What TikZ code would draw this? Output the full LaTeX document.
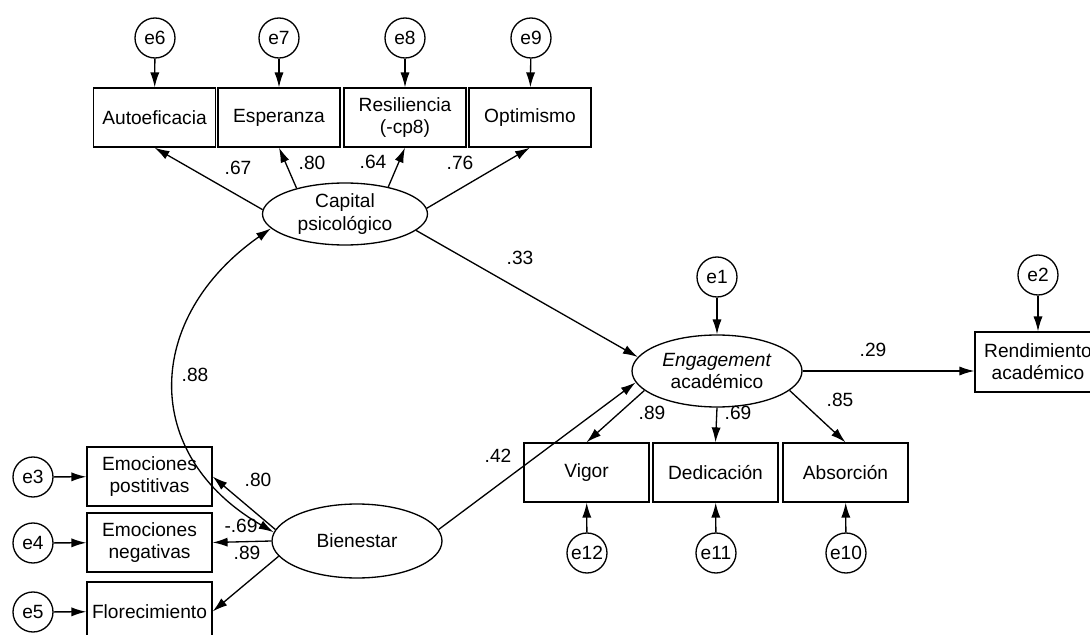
\documentclass[tikz,border=0pt]{standalone}
\usepackage{fontspec}
\setmainfont{Liberation Sans}
\usetikzlibrary{shapes,arrows.meta}

\begin{document}
\begin{tikzpicture}[x=0.02cm, y=0.02cm, line width=0.75pt,
				>={Latex[length=8.5pt,width=5.2pt]},   %Pfeilspitzen
				font=\fontsize{10.9}{12.6}\selectfont,
				box/.style={draw, rectangle, minimum width=2.44cm, minimum height=1.18cm, inner sep=1pt, align=center},
				lat/.style={draw, ellipse, inner sep=0pt, align=center},
				err/.style={draw, circle, minimum size=0.8cm, inner sep=0pt},
				coef/.style={inner sep=0pt}]
				%Bildbereich
				\useasboundingbox (0,0) rectangle (1090,-635);
				\clip (0,0) rectangle (1090,-635);
				% Capital psicologico
				\node[box] (auto) at (154.5,-117.5) {Autoeficacia};
				\node[box] (espe) at (279,-117.5) {Esperanza};
				\node[box] (resi) at (405,-117.5) {Resiliencia\\(-cp8)};
				\node[box] (opti) at (530,-117.5) {Optimismo};
				\node[err] (e6) at (155,-38) {e6};
				\node[err] (e7) at (279,-38) {e7};
				\node[err] (e8) at (405,-38) {e8};
				\node[err] (e9) at (531,-38) {e9};
				\node[lat, minimum width=3.3cm, minimum height=1.24cm] (cap) at (345,-214) {Capital\\psicológico};
				% Engagement
				\node[lat, minimum width=3.4cm, minimum height=1.44cm] (eng) at (717,-371) {\textit{Engagement}\\académico};
				\node[err] (e1) at (717,-277) {e1};
				\node[box, minimum width=2.52cm, minimum height=1.2cm] (rend) at (1038,-362) {Rendimiento\\académico};
				\node[err] (e2) at (1038,-275) {e2};
				\node[box, minimum width=2.5cm] (vigo) at (586.5,-472.5) {Vigor};
				\node[box, minimum width=2.5cm] (dedi) at (715.5,-472.5) {Dedicación};
				\node[box, minimum width=2.5cm] (abso) at (845.5,-472.5) {Absorción};
				\node[err] (e12) at (587,-553) {e12};
				\node[err] (e11) at (716,-553) {e11};
				\node[err] (e10) at (846,-553) {e10};
				% Bienestar
				\node[lat, minimum width=3.4cm, minimum height=1.48cm] (bien) at (357,-541) {Bienestar};
				\node[box, minimum width=2.5cm] (posi) at (149.5,-476.5) {Emociones\\postitivas};
				\node[box, minimum width=2.5cm] (nega) at (149.5,-542.5) {Emociones\\negativas};
				\node[box, minimum width=2.5cm] (flor) at (149.5,-611.5) {Florecimiento};
				\node[err] (e3) at (33,-477) {e3};
				\node[err] (e4) at (33,-543) {e4};
				\node[err] (e5) at (33,-612) {e5};
				% Fehlerterme
				\foreach \e/\b in {e6/auto, e7/espe, e8/resi, e9/opti, e1/eng, e2/rend, e12/vigo, e11/dedi, e10/abso, e3/posi, e4/nega, e5/flor}
					\draw[->] (\e) -- (\b);
				% Ladungen
				\draw[->] (cap.177) -- (auto.south);
				\draw[->] (cap.152) -- (espe.south);
				\draw[->] (cap.32) -- (resi.south);
				\draw[->] (cap.4) -- (opti.south);
				\draw[->] (eng.195) -- (vigo.north);
				\draw[->] (eng.south) -- (dedi.north);
				\draw[->] (eng.345) -- (abso.north);
				\draw[->] (bien.172) -- (posi.east);
				\draw[->] (bien.west) -- (nega.east);
				\draw[->] (bien.191) -- (flor.east);
				% Pfade
				\draw[->] (cap.347) -- (eng.170);
				\draw[->] (bien.8) -- (eng.188);
				\draw[->] (eng.east) -- (eng.east -| rend.west);
				\draw[<->] (cap.191) to[out=215, in=150, looseness=1.3] (bien.174);
				%Beschriftung
				\node[coef] (c67) at (238,-168) {.67};
				\node[coef] (c80a) at (312,-163) {.80};
				\node[coef] (c64) at (373,-162) {.64};
				\node[coef] (c76) at (460,-163) {.76};
				\node[coef] (c33) at (520,-258) {.33};
				\node[coef] (c88) at (195,-375) {.88};
				\node[coef] (c42) at (498,-456) {.42};
				\node[coef] (c29) at (873,-350) {.29};
				\node[coef] (c89a) at (652,-413) {.89};
				\node[coef] (c69a) at (738,-413) {.69};
				\node[coef] (c85) at (840,-400) {.85};
				\node[coef] (c80b) at (258,-480) {.80};
				\node[coef] (c69b) at (241,-526) {-.69};
				\node[coef] (c89b) at (247,-553) {.89};
			\end{tikzpicture}
\end{document}
